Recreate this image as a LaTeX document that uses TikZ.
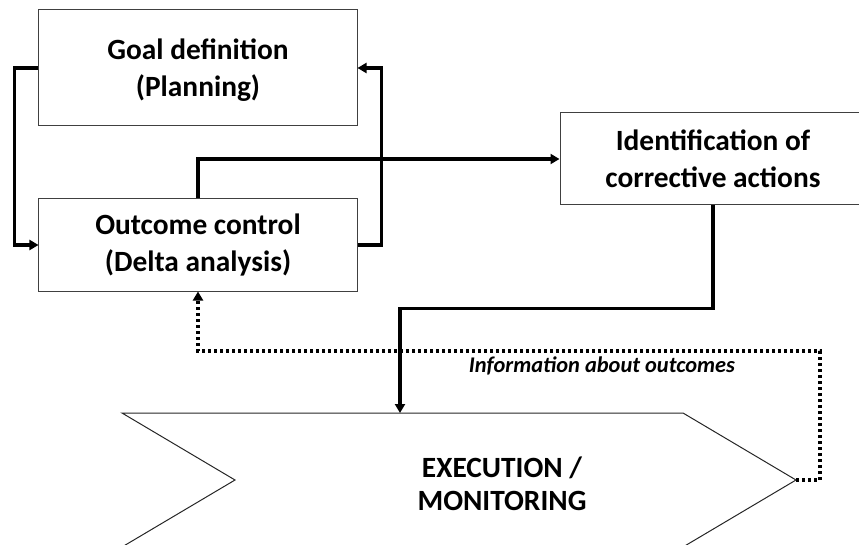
\documentclass[tikz,border=0pt]{standalone}
\usepackage{fontspec}
\setmainfont{Carlito}
\usetikzlibrary{arrows.meta}
\begin{document}
\begin{tikzpicture}[x=1bp,y=-1bp,
  box/.style={draw=black!75, line width=1bp, fill=white, align=center, inner sep=0pt,
    font=\fontsize{29.5}{37}\selectfont\bfseries},
  conn/.style={line width=3.4bp, -{Triangle[length=9bp,width=10bp]}},
  dotconn/.style={line width=3.4bp, dash pattern=on 3.4bp off 2.6bp, -{Triangle[length=9bp,width=10bp]}},
  shapeline/.style={draw=black!85, line width=1bp},
  lbl/.style={font=\fontsize{22.5}{26}\selectfont\bfseries\itshape, inner sep=0pt}]
\useasboundingbox (0,0) rectangle (859,545);
\clip (0,0) rectangle (859,545);
% nodes
\node[box, minimum width=318bp, minimum height=116bp, text depth=0pt] (goal) at (198,68) {Goal definition\\(Planning)};
\node[box, minimum width=318bp, minimum height=92bp] (outcome) at (198,245) {Outcome control\\(Delta analysis)};
\node[box, minimum width=306bp, minimum height=92bp] (ident) at (713,159) {Identification of\\corrective actions};
% chevron
\coordinate (chevtop) at (400,413);
\coordinate (chevtip) at (796,480);
\coordinate (dotcorner) at (820,351);
\draw[shapeline] (122,413) -- (683,413) -- (chevtip) -- (683,547) -- (122,547) -- (235,480) -- cycle;
\node[font=\fontsize{29.5}{33}\selectfont\bfseries, align=center, inner sep=0pt] (exec) at (502,484) {EXECUTION /\\MONITORING};
% connectors
\draw[dotconn] (chevtip) -| (dotcorner) -| (outcome.south);
\node[lbl] (info) at (602,366) {Information about outcomes};
\draw[conn] (goal.west) -- ++(-24,0) |- (outcome.west);
\draw[conn] (outcome.east) -- ++(24,0) |- (goal.east);
\draw[conn] (outcome.north) |- (ident.west);
\draw[conn] (ident.south) -- ++(0,103) -| (chevtop);
\end{tikzpicture}
\end{document}
